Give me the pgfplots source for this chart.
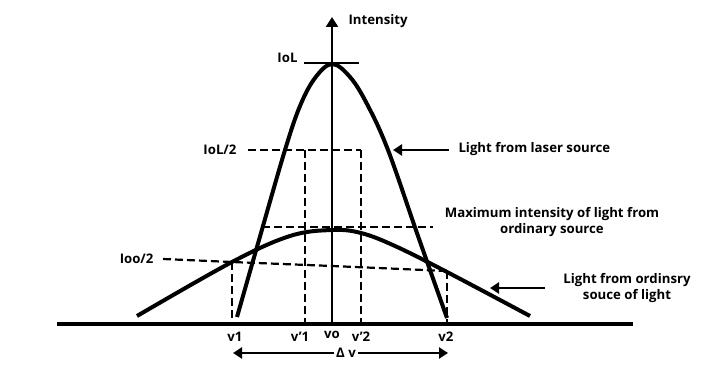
\documentclass[border=0pt]{standalone}
\usepackage{fontspec}
\setmainfont{Open Sans}
\usepackage{pgfplots}
\pgfplotsset{compat=1.18}
\usetikzlibrary{arrows.meta}
\begin{document}
\begin{tikzpicture}[every node/.append style={font=\fontsize{13.2}{15.5}\selectfont\bfseries}]
\begin{axis}[
  x=1pt, y=1pt,
  xmin=0, xmax=725, ymin=0, ymax=371,
  y dir=reverse,
  hide axis, clip=false,
  scale only axis,
  dsh/.style={black, line width=2.2pt, dash pattern=on 8pt off 4pt},
]
% bounding box
\addplot[draw=none] coordinates {(0,0) (725,371)};
% baseline
\addplot[black, line width=4pt] coordinates {(57,324) (633,324)};
% vertical axis
\addplot[black, line width=2.4pt, -{Triangle[width=12pt,length=10pt]}] coordinates {(332,324) (332,17)};
% IoL tick
\addplot[black, line width=2.4pt] coordinates {(304,63) (359,63)};
% dashed guides
\addplot[dsh] coordinates {(248,150) (361,150)};
\addplot[dsh] coordinates {(305,150) (305,324)};
\addplot[dsh] coordinates {(361,150) (361,324)};
\addplot[dsh] coordinates {(262,227) (433,227)};
\addplot[dsh] coordinates {(163,259) (232,262) (332,266) (447,271)};
\addplot[dsh] coordinates {(232,262) (232,324)};
\addplot[dsh] coordinates {(447,271) (447,324)};
% laser curve
\addplot[black, line width=4pt, smooth, tension=0.6] coordinates {
 (237,317) (261,233) (285,150) (300,106) (315,78) (332,64)
 (350,77) (367,104) (388,150) (418,236) (447,318)};
% ordinary curve
\addplot[black, line width=4pt, smooth, tension=0.6] coordinates {
 (137,316) (232,262) (290,236) (332,230)
 (361,233) (395,246) (447,272) (530,316)};
% pointer arrows
\addplot[black, line width=2.4pt, -{Triangle[width=11pt,length=9pt]}] coordinates {(449,150) (393,150)};
\addplot[black, line width=2.4pt, -{Triangle[width=11pt,length=9pt]}] coordinates {(545,288) (490,288)};
% delta v arrow
\addplot[black, line width=2.4pt, {Triangle[width=11pt,length=9pt]}-{Triangle[width=11pt,length=9pt]}] coordinates {(233,353) (448,353)};
% labels
\node[anchor=west] at (axis cs:345,21) {Intensity};
\node[anchor=east] at (axis cs:301,58) {IoL};
\node[anchor=east] at (axis cs:240,150) {IoL/2};
\node[anchor=east] at (axis cs:157,259) {Ioo/2};
\node[anchor=west] at (axis cs:455,149) {Light from laser source};
\node[align=center, inner sep=0pt] at (axis cs:552,222) {Maximum intensity of light from\\ordinary source};
\node[align=center, inner sep=0pt] at (axis cs:627,288) {Light from ordinsry\\souce of light};
\node at (axis cs:235,337) {v1};
\node at (axis cs:300,337) {v'1};
\node at (axis cs:332,335) {vo};
\node at (axis cs:361,337) {v'2};
\node at (axis cs:446,337) {v2};
\node[fill=white, inner sep=2pt] at (axis cs:346,353) {Δ v};
\end{axis}
\end{tikzpicture}
\end{document}
